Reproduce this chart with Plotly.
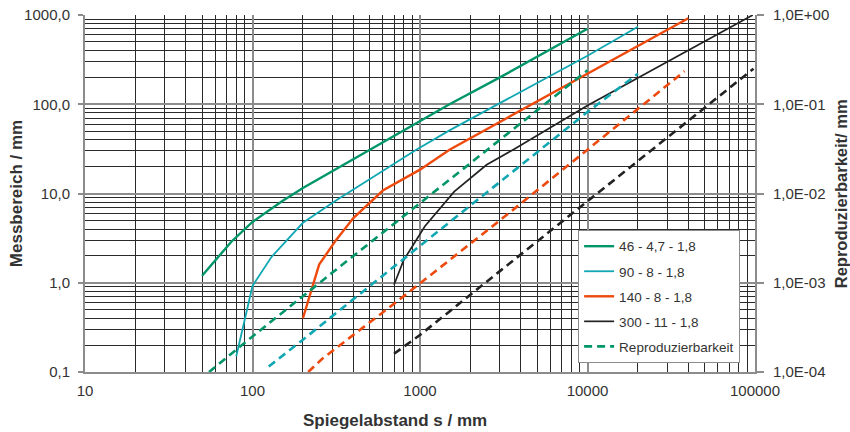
import plotly.graph_objects as go

# --- Messbereich (primary axis, mm) ---
green_x = [50, 75, 100, 150, 200, 500, 1000, 1500, 3000, 10000]
green_y = [1.2, 2.9, 4.8, 8.2, 11.5, 31, 65, 100, 200, 700]

cyan_x = [80, 100, 130, 200, 320, 950, 1500, 10000, 20000]
cyan_y = [0.15, 0.92, 1.95, 4.7, 8.5, 31, 51, 350, 740]

orange_x = [200, 250, 315, 400, 600, 1000, 1500, 10000, 40000]
orange_y = [0.4, 1.6, 3.0, 5.3, 10.8, 18.5, 31, 220, 920]

black_x = [700, 800, 1070, 1600, 2500, 3600, 10000, 40000, 97000]
black_y = [0.95, 1.8, 4.3, 10.5, 21, 31, 97, 400, 1000]

# --- Reproduzierbarkeit (secondary axis, mm) ---
green_rep_x = [55, 100, 300, 1000, 3000, 10000]
green_rep_y = [1.0e-4, 2.5e-4, 1.3e-3, 7.7e-3, 0.040, 0.24]

cyan_rep_x = [125, 200, 740, 3000, 10000, 20000]
cyan_rep_y = [1.15e-4, 2.3e-4, 1.65e-3, 0.0135, 0.082, 0.22]

orange_rep_x = [215, 260, 740, 3000, 10000, 38000]
orange_rep_y = [1.0e-4, 1.4e-4, 6.3e-4, 5.0e-3, 0.031, 0.235]

black_rep_x = [700, 1000, 3000, 11000, 30000, 98000]
black_rep_y = [1.6e-4, 2.6e-4, 1.35e-3, 9.5e-3, 0.042, 0.25]

names = ["46 - 4,7 - 1,8", "90 - 8 - 1,8", "140 - 8 - 1,8", "300 - 11 - 1,8"]

x_ticks = [10, 100, 1000, 10000, 100000]
x_ticktext = ["10", "100", "1000", "10000", "100000"]
y_ticks = [0.1, 1, 10, 100, 1000]
y_ticktext = ["0,1", "1,0", "10,0", "100,0", "1000,0"]
y2_ticks = [1e-4, 1e-3, 1e-2, 1e-1, 1]
y2_ticktext = ["1,0E-04", "1,0E-03", "1,0E-02", "1,0E-01", "1,0E+00"]

GREEN = "#00966A"
CYAN = "#12A8B3"
ORANGE = "#EE4A0E"
BLACK = "#222222"

fig = go.Figure()

solid = [
    (green_x, green_y, GREEN, 2.4, names[0]),
    (cyan_x, cyan_y, CYAN, 1.8, names[1]),
    (orange_x, orange_y, ORANGE, 2.4, names[2]),
    (black_x, black_y, BLACK, 1.7, names[3]),
]
for i, (x, y, c, w, n) in enumerate(solid):
    fig.add_trace(go.Scatter(x=x, y=y, mode="lines", name=n,
                             line=dict(color=c, width=w),
                             legendgroup="g%d" % i, yaxis="y"))

dashed = [
    (green_rep_x, green_rep_y, GREEN, True),
    (cyan_rep_x, cyan_rep_y, CYAN, False),
    (orange_rep_x, orange_rep_y, ORANGE, False),
    (black_rep_x, black_rep_y, BLACK, False),
]
for x, y, c, sl in dashed:
    fig.add_trace(go.Scatter(x=x, y=y, mode="lines", name="Reproduzierbarkeit",
                             line=dict(color=c, width=2.6, dash="8px,5px"),
                             showlegend=sl, legendgroup="g4", yaxis="y2"))

minor_x = [m * 10 ** e for e in range(1, 5) for m in range(2, 10)]
minor_y = [m * 10 ** e for e in range(-1, 3) for m in range(2, 10)]

FONT = "Liberation Sans, Arial, sans-serif"
GRID_MAJOR = "#8c8c8c"
TXT = "#333333"

fig.update_layout(
    width=850, height=432,
    margin=dict(l=85, r=95, t=15, b=60, autoexpand=False),
    paper_bgcolor="white", plot_bgcolor="white",
    font=dict(family=FONT, size=15, color=TXT),
    xaxis=dict(type="log", range=[1, 5], tickmode="array",
               tickvals=x_ticks, ticktext=x_ticktext, automargin=False,
               showgrid=True, gridcolor=GRID_MAJOR, gridwidth=2,
               showline=True, linecolor=GRID_MAJOR, linewidth=2,
               ticks="", zeroline=False, ticklabelstandoff=4,
               minor=dict(tickmode="array", tickvals=minor_x, showgrid=True,
                          gridcolor="#2a2a2a", gridwidth=1, ticks=""),
               tickfont=dict(size=15)),
    yaxis=dict(type="log", range=[-1, 3], tickmode="array",
               tickvals=y_ticks, ticktext=y_ticktext, automargin=False,
               showgrid=True, gridcolor=GRID_MAJOR, gridwidth=2,
               showline=True, linecolor=GRID_MAJOR, linewidth=2,
               ticks="outside", ticklen=5, tickcolor=GRID_MAJOR, tickwidth=1.5,
               zeroline=False, ticklabeloverflow="allow", ticklabelstandoff=5,
               minor=dict(tickmode="array", tickvals=minor_y, showgrid=True,
                          gridcolor="#2a2a2a", gridwidth=1, ticks=""),
               tickfont=dict(size=15)),
    yaxis2=dict(type="log", range=[-4, 0], overlaying="y", side="right",
                tickmode="array", tickvals=y2_ticks, ticktext=y2_ticktext,
                automargin=False,
                showgrid=False, showline=True, linecolor=GRID_MAJOR, linewidth=2,
                ticks="outside", ticklen=7, tickcolor=GRID_MAJOR, tickwidth=1.5,
                zeroline=False, ticklabeloverflow="allow", ticklabelstandoff=6,
                tickfont=dict(size=15)),
    legend=dict(x=0.736, y=0.398, xanchor="left", yanchor="top",
                bgcolor="white", bordercolor="#8c8c8c", borderwidth=1,
                font=dict(size=13.5, color=TXT),
                traceorder="grouped", tracegroupgap=4.5, itemwidth=30),
    showlegend=True,
    annotations=[
        dict(text="<b>Spiegelabstand s / mm</b>", xref="paper", yref="paper",
             x=0.463, y=-0.137, xanchor="center", yanchor="middle",
             showarrow=False, font=dict(size=17, color=TXT)),
        dict(text="<b>Messbereich / mm</b>", xref="paper", yref="paper",
             x=-0.102, y=0.5, xanchor="center", yanchor="middle", textangle=-90,
             showarrow=False, font=dict(size=17, color=TXT)),
        dict(text="<b>Reproduzierbarkeit/ mm</b>", xref="paper", yref="paper",
             x=1.128, y=0.5, xanchor="center", yanchor="middle", textangle=-90,
             showarrow=False, font=dict(size=16.5, color=TXT)),
    ],
)

# remove the browser's default 8px body margin so the figure fills the window
fig.write_html("out.html",
               config={"displayModeBar": False},
               post_script="document.body.style.margin='0';"
                           "document.documentElement.style.overflow='hidden';")
